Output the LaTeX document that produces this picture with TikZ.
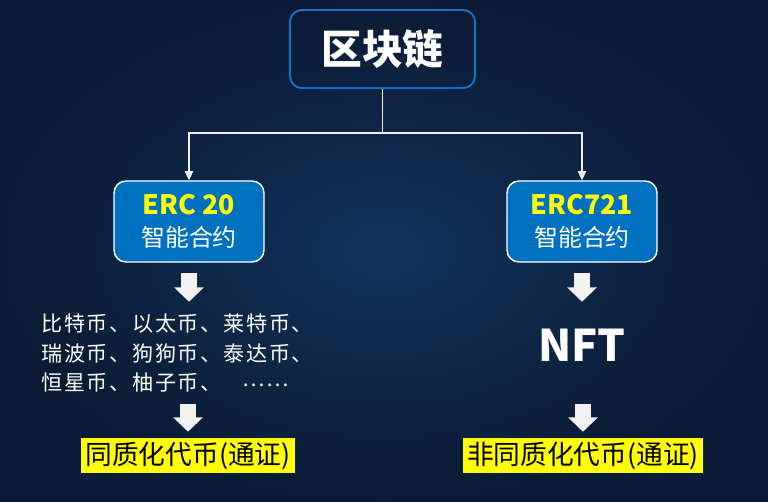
\documentclass[tikz,border=0pt]{standalone}
\usepackage{fontspec}
\setmainfont{Noto Sans CJK SC}
\usetikzlibrary{arrows.meta,positioning}

\definecolor{bgin}{HTML}{12335A}
\definecolor{bgout}{HTML}{0A1A34}
\definecolor{boxblue}{HTML}{0070C0}
\definecolor{edgeblue}{HTML}{1C6FC4}
\definecolor{arrowwhite}{HTML}{F2F2F2}
\definecolor{hiyellow}{HTML}{FFFF00}

\begin{document}
\begin{tikzpicture}[x=0.025cm,y=-0.025cm,
  >={Triangle[length=2.3mm,width=2.1mm]},
  topbox/.style={draw=edgeblue, line width=1.4pt, rounded corners=3mm,
    minimum width=4.625cm, minimum height=1.95cm, text=white,
    font=\fontsize{29}{30}\selectfont\bfseries},
  ercbox/.style={draw=white, fill=boxblue, line width=1pt, rounded corners=3mm,
    minimum width=3.75cm, minimum height=2.025cm, align=center, text=white,
    font=\fontsize{17}{23}\selectfont},
  coinlist/.style={text=white, align=left, inner sep=0pt,
    font=\fontsize{15}{21.3}\selectfont\addfontfeature{LetterSpace=8}},
  bigname/.style={text=white, font=\fontsize{31}{34}\selectfont\bfseries},
  tokenlabel/.style={fill=hiyellow, text=black, inner xsep=1.1mm, inner ysep=0pt,
    minimum height=8.75mm, font=\fontsize{19}{22}\selectfont},
  tree/.style={draw=arrowwhite, line width=1pt},
  fatarrow/.style={draw=arrowwhite, line width=4mm,
    -{Triangle[length=3.6mm,width=7.25mm]}}
]

% background
\shade[inner color=bgin, outer color=bgout] (0,0) rectangle (768,501);

% define the boxes
\node[topbox] (chain) at (382.5,49) {区块链};
\node[ercbox] (erc20) at (189,221.5) {{\color{hiyellow}\bfseries\fontsize{19}{23}\selectfont ERC 20}\\智能合约};
\node[ercbox] (erc721) at (582,221.5) {{\color{hiyellow}\bfseries\fontsize{19}{23}\selectfont ERC721}\\智能合约};

\node[coinlist, anchor=west] (coins) at (41,353)
  {比特币、以太币、莱特币、\\瑞波币、狗狗币、泰达币、\\恒星币、柚子币、\hspace{1em}\raisebox{0.2em}{……}};
\node[bigname] (nft) at (582,345) {NFT};

\node[tokenlabel] (fungible) at (188,455.5) {同质化代币(通证)};
\node[tokenlabel] (nonfungible) at (583,455.5) {非同质化代币(通证)};

% define the links
\coordinate (split) at (382.5,133);
\draw[tree] (chain.south) -- (split);
\draw[tree,->] (split) -| (erc20.north);
\draw[tree,->] (split) -| (erc721.north);

\draw[fatarrow] ([yshift=-2.5mm]erc20.south) -- ([yshift=-9.75mm]erc20.south);
\draw[fatarrow] ([yshift=-2.5mm]erc721.south) -- ([yshift=-9.75mm]erc721.south);
\draw[fatarrow] ([yshift=8.5mm]fungible.north) -- ([yshift=1.5mm]fungible.north);
\draw[fatarrow] ([yshift=8.5mm]nonfungible.north) -- ([yshift=1.5mm]nonfungible.north);

\end{tikzpicture}
\end{document}
